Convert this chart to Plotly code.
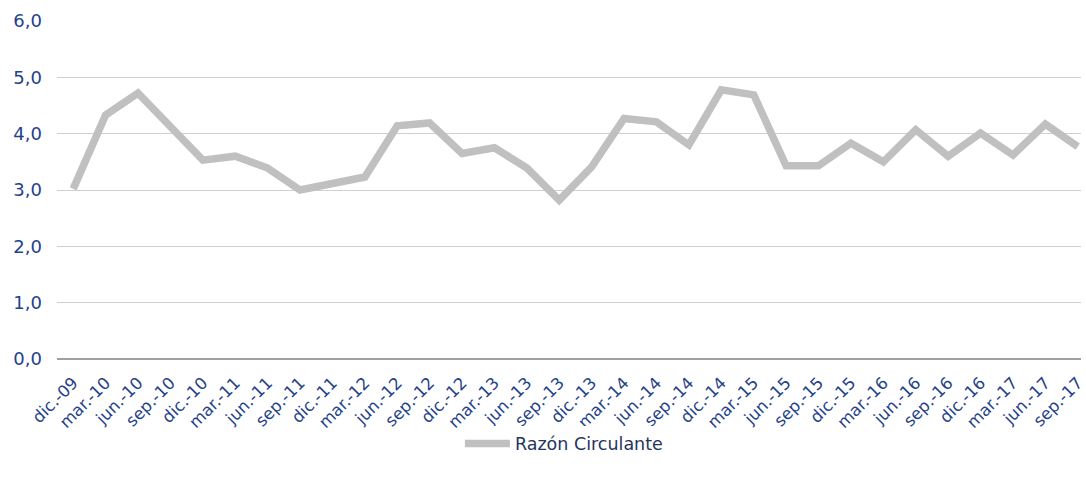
import plotly.graph_objects as go

categories = ["dic.-09", "mar.-10", "jun.-10", "sep.-10", "dic.-10", "mar.-11", "jun.-11", "sep.-11",
              "dic.-11", "mar.-12", "jun.-12", "sep.-12", "dic.-12", "mar.-13", "jun.-13", "sep.-13",
              "dic.-13", "mar.-14", "jun.-14", "sep.-14", "dic.-14", "mar.-15", "jun.-15", "sep.-15",
              "dic.-15", "mar.-16", "jun.-16", "sep.-16", "dic.-16", "mar.-17", "jun.-17", "sep.-17"]
razon_circulante = [3.02, 4.33, 4.72, 4.14, 3.53, 3.60, 3.39, 3.00,
                    3.11, 3.23, 4.14, 4.19, 3.65, 3.75, 3.39, 2.82,
                    3.41, 4.27, 4.21, 3.80, 4.78, 4.69, 3.43, 3.43,
                    3.83, 3.50, 4.07, 3.60, 4.01, 3.62, 4.17, 3.77]
y_ticks = [0, 1, 2, 3, 4, 5, 6]

label_color = "#24428a"
font_family = "DejaVu Sans, Verdana, sans-serif"

fig = go.Figure()
fig.add_trace(go.Scatter(
    x=categories, y=razon_circulante, mode="lines", name="Razón Circulante",
    line=dict(color="#c0c0c0", width=7.5),
))

fig.update_layout(
    width=1086, height=480,
    margin=dict(l=57, r=0, t=21, b=121),
    paper_bgcolor="white", plot_bgcolor="white",
    separators=",.",
    showlegend=True,
    legend=dict(orientation="h", x=0.495, xanchor="center", y=-0.25, yanchor="middle",
                itemwidth=45,
                font=dict(family=font_family, size=17.5, color="#26345e")),
    font=dict(family=font_family, size=17, color=label_color),
)
fig.update_xaxes(
    type="category", range=[-0.5, 31.1], tickangle=-45,
    showgrid=False, showline=False, ticks="", ticklabelstandoff=10,
    tickfont=dict(family=font_family, size=16.5, color=label_color),
)
fig.update_yaxes(
    range=[0, 6], tickvals=y_ticks, tickformat=".1f",
    showgrid=True, gridcolor="#d0d0d0", gridwidth=1,
    zeroline=True, zerolinecolor="#a0a0a0", zerolinewidth=2,
    showline=False, ticks="", ticklabelstandoff=14,
    tickfont=dict(family=font_family, size=18, color=label_color),
)

fig.write_html("out.html")
